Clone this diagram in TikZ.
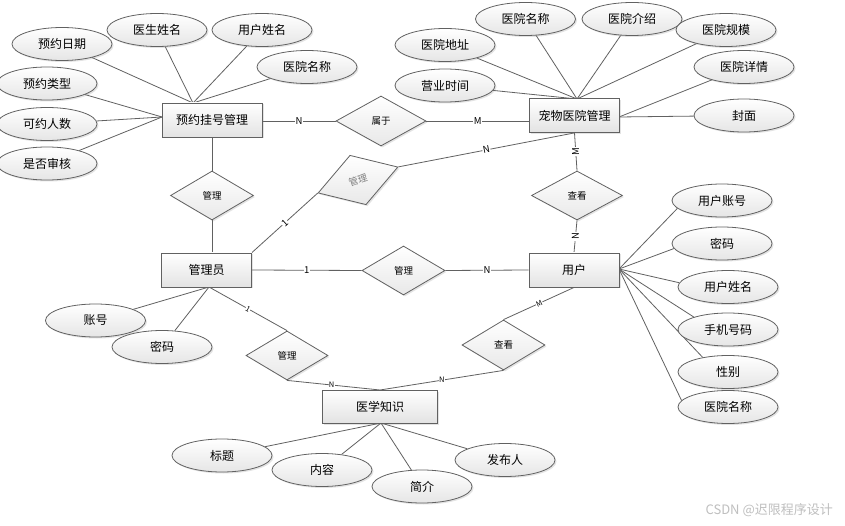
\documentclass[tikz,border=0pt]{standalone}
\usepackage{fontspec}
\setmainfont{Noto Sans CJK SC}
\usetikzlibrary{shapes.geometric,shadows,backgrounds}
\begin{document}
\begin{tikzpicture}[x=1pt,y=-1pt,
  ln/.style={draw=black!62, line width=0.8pt},
  shd/.style={drop shadow={opacity=0.22, shadow xshift=1.5pt, shadow yshift=-1.5pt}},
  ent/.style={rectangle, draw=black!62, line width=0.8pt, minimum width=90, minimum height=34, inner sep=0,
    top color=white, bottom color=gray!22, shd, font=\fontsize{12}{14}\selectfont},
  attr/.style={ellipse, draw=black!62, line width=0.8pt, minimum width=100, minimum height=33, inner sep=0,
    top color=white, bottom color=gray!20, shd, font=\fontsize{12}{14}\selectfont},
  rel/.style={diamond, draw=black!62, line width=0.8pt, minimum width=83, minimum height=49, inner sep=0,
    top color=white, bottom color=gray!18, shd, font=\fontsize{9.5}{11}\selectfont},
  lbl/.style={fill=white, inner sep=0.6pt, font=\fontsize{9.5}{11}\selectfont},
  slbl/.style={fill=white, inner sep=0.4pt, font=\fontsize{7.5}{9}\selectfont}
]
\useasboundingbox (0,0) rectangle (845,526);

% convergence points
\coordinate (pA) at (193,103);
\coordinate (pAl) at (162,117);
\coordinate (pB) at (577,99);
\coordinate (pBr) at (619,117);
\coordinate (pU) at (619,269);
\coordinate (pG) at (209,287);
\coordinate (pK) at (381,423);
\coordinate (yxt) at (380,390);
\coordinate (yhb) at (575,287);

% entities
\node[ent, minimum width=100] (yy) at (212,120) {预约挂号管理};
\node[ent] (cw) at (574.5,115.5) {宠物医院管理};
\node[ent] (gly) at (206.5,270) {管理员};
\node[ent] (yh) at (574,270) {用户};
\node[ent, minimum width=115, minimum height=33] (yx) at (380,406.5) {医学知识};

% relationships
\node[rel, minimum width=90, minimum height=50] (sy) at (381,121) {属于};
\node[rel] (gl1) at (212,195.5) {管理};
\node[rel, rotate=18, minimum width=84, minimum height=52, text=gray] (gl2) at (358,180) {管理};
\node[rel, minimum width=91] (ck1) at (577,195.5) {查看};
\node[rel] (gl3) at (403.5,270.5) {管理};
\node[rel, minimum width=82] (gl4) at (287,355.5) {管理};
\node[rel, minimum height=50] (ck2) at (503.5,345) {查看};

% attributes of 预约挂号管理
\node[attr] (a1) at (62,44) {预约日期};
\node[attr] (a2) at (157,30) {医生姓名};
\node[attr] (a3) at (262,30) {用户姓名};
\node[attr] (a4) at (307,67) {医院名称};
\node[attr] (a5) at (47,83.5) {预约类型};
\node[attr] (a6) at (47,124) {可约人数};
\node[attr] (a7) at (47,163.5) {是否审核};

% attributes of 宠物医院管理
\node[attr] (b1) at (445,45) {医院地址};
\node[attr] (b2) at (445,85.5) {营业时间};
\node[attr] (b3) at (525.5,19) {医院名称};
\node[attr] (b4) at (632,19) {医院介绍};
\node[attr] (b5) at (726,30) {医院规模};
\node[attr] (b6) at (744,67) {医院详情};
\node[attr] (b7) at (744,115.5) {封面};

% attributes of 用户
\node[attr] (c1) at (722,200.5) {用户账号};
\node[attr] (c2) at (722,243.5) {密码};
\node[attr] (c3) at (728,287) {用户姓名};
\node[attr] (c4) at (728,329.5) {手机号码};
\node[attr] (c5) at (728,372) {性别};
\node[attr] (c6) at (728,407) {医院名称};

% attributes of 管理员
\node[attr] (d1) at (95.5,320.5) {账号};
\node[attr] (d2) at (162,347) {密码};

% attributes of 医学知识
\node[attr] (e1) at (222,455.5) {标题};
\node[attr] (e2) at (322,470) {内容};
\node[attr] (e3) at (422,486.5) {简介};
\node[attr] (e4) at (505,460) {发布人};

% watermark
\node[anchor=east, text=gray!50, inner sep=0, font=\fontsize{13}{15}\selectfont] (wm) at (833,510) {CSDN @迟限程序设计};

\begin{scope}[on background layer]
\fill[white] (0,0) rectangle (845,526);
% connectors between entities and relationships
\draw[ln] (yy.east |- sy.west) -- node[lbl]{N} (sy.west);
\draw[ln] (sy.east) -- node[lbl]{M} (sy.east -| cw.west);
\draw[ln] (yy.south) -- (gl1.north);
\draw[ln] (gl1.south) -- (gl1.south |- gly.north);
\draw[ln] (gly.north east) -- node[lbl, sloped]{1} (gl2.west);
\draw[ln] (gl2.east) -- node[lbl, sloped]{N} (cw.south);
\draw[ln] (cw.south) -- node[lbl, rotate=90]{M} (ck1.north);
\draw[ln] (ck1.south) -- node[lbl, rotate=90]{N} (yh.north);
\draw[ln] (gly.east) -- node[lbl]{1} (gl3.west);
\draw[ln] (gl3.east) -- node[lbl]{N} (yh.west);
\draw[ln] (pG) -- node[slbl, sloped]{1} (gl4.north);
\draw[ln] (gl4.south) -- node[slbl, pos=0.48]{N} (yxt);
\draw[ln] (ck2.south) -- node[slbl]{N} (yxt);
\draw[ln] (yhb) -- node[slbl, sloped]{M} (ck2.north);
% attribute lines
\foreach \a in {a1,a2,a3,a4} \draw[ln] (\a) -- (pA);
\foreach \a in {a5,a6,a7} \draw[ln] (\a) -- (pAl);
\foreach \b in {b1,b2,b3,b4,b5} \draw[ln] (\b) -- (pB);
\foreach \b in {b6,b7} \draw[ln] (\b) -- (pBr);
\draw[ln] (c1.190) -- (pU);
\draw[ln] (c2.186) -- (pU);
\draw[ln] (c3.175) -- (pU);
\draw[ln] (c4.160) -- (pU);
\draw[ln] (c5.150) -- (pU);
\draw[ln] (c6.172) -- (pU);
\draw[ln] (d1) -- (pG);
\draw[ln] (d2) -- (pG);
\foreach \e in {e1,e2,e3,e4} \draw[ln] (\e) -- (pK);
\end{scope}
\end{tikzpicture}
\end{document}
